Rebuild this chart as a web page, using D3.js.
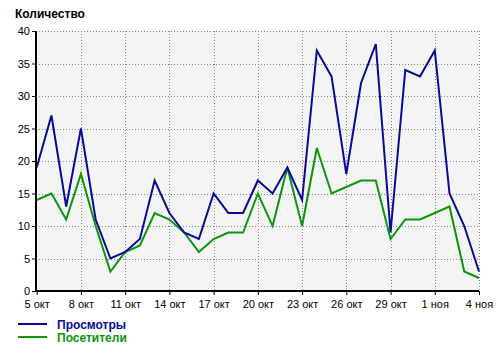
<!DOCTYPE html>
<meta charset="utf-8">
<style>
body { margin: 0; background: #fff; }
text { font-family: "Liberation Sans", Arial, sans-serif; }
.axis text { font-size: 11px; fill: #000; }
.grid line { stroke: #888; stroke-dasharray: 1,2; }
</style>
<svg width="500" height="349"></svg>
<script src="https://d3js.org/d3.v7.min.js"></script>
<script>

// one point per day, 5 окт .. 4 ноя
var days = d3.range(0, 31);
var tickLabels = ["5 окт", "8 окт", "11 окт", "14 окт", "17 окт", "20 окт",
                  "23 окт", "26 окт", "29 окт", "1 ноя", "4 ноя"];
var yTicks = [0, 5, 10, 15, 20, 25, 30, 35, 40];

var views = [19, 27, 13, 25, 11, 5, 6, 8, 17, 12, 9, 8, 15, 12, 12, 17,
             15, 19, 14, 37, 33, 18, 32, 38, 9, 34, 33, 37, 15, 10, 3];
var visitors = [14, 15, 11, 18, 10, 3, 6, 7, 12, 11, 9, 6, 8, 9, 9, 15,
                10, 19, 10, 22, 15, 16, 17, 17, 8, 11, 11, 12, 13, 3, 2];

var series = [
  { name: "Просмотры", values: views, color: "#0a0a96" },
  { name: "Посетители", values: visitors, color: "#0b960b" }
];

var svg = d3.select("svg");
var plotL = 36, plotR = 479, plotT = 31, plotB = 291;

var x = d3.scaleLinear().domain([0, 30]).range([plotL + 0.7, plotR]);
var y = d3.scaleLinear().domain([0, 40]).range([plotB, plotT]);

svg.append("rect")
    .attr("x", plotL).attr("y", plotT)
    .attr("width", plotR - plotL).attr("height", plotB - plotT)
    .attr("fill", "#f4f4f4");

// dotted grid
var grid = svg.append("g").attr("class", "grid");
grid.selectAll("line.h")
  .data(yTicks.slice(1))
  .enter().append("line")
    .attr("x1", plotL).attr("x2", plotR)
    .attr("y1", function(d) { return Math.round(y(d)) + 0.5; })
    .attr("y2", function(d) { return Math.round(y(d)) + 0.5; });
grid.selectAll("line.v")
  .data(d3.range(3, 31, 3))
  .enter().append("line")
    .attr("y1", plotT).attr("y2", plotB)
    .attr("x1", function(d) { return Math.round(x(d)) + 0.5; })
    .attr("x2", function(d) { return Math.round(x(d)) + 0.5; });

var line = d3.line()
    .x(function(d, i) { return x(days[i]); })
    .y(function(d) { return y(d); });

// green first so blue sits on top
series.slice().reverse().forEach(function(s) {
  svg.append("path")
      .datum(s.values)
      .attr("fill", "none")
      .attr("stroke", s.color)
      .attr("stroke-width", 2)
      .attr("d", line);
});

// axes
var xAxis = d3.axisBottom(x)
    .tickValues(d3.range(0, 31, 3))
    .tickFormat(function(d, i) { return tickLabels[i]; })
    .tickSize(4).tickPadding(5);
var yAxis = d3.axisLeft(y)
    .tickValues(yTicks)
    .tickSize(4).tickPadding(2);

var gx = svg.append("g").attr("class", "axis")
    .attr("transform", "translate(0," + plotB + ")")
    .call(xAxis);
var gy = svg.append("g").attr("class", "axis")
    .attr("transform", "translate(" + plotL + ",0)")
    .call(yAxis);
gx.select(".domain").remove();
gy.select(".domain").remove();
gx.selectAll(".tick line").attr("stroke", "#000");
gy.selectAll(".tick line").attr("stroke", "#000");

svg.append("line")
    .attr("x1", plotL).attr("x2", plotL)
    .attr("y1", plotT).attr("y2", plotB + 1)
    .attr("stroke", "#000").attr("stroke-width", 2);
svg.append("line")
    .attr("x1", plotL - 1).attr("x2", plotR)
    .attr("y1", plotB).attr("y2", plotB)
    .attr("stroke", "#000").attr("stroke-width", 2);

svg.append("text")
    .attr("x", 15).attr("y", 18)
    .style("font-size", "12px").style("font-weight", "bold")
    .text("Количество");

// legend
var legend = svg.selectAll("g.legend")
  .data(series)
  .enter().append("g")
    .attr("transform", function(d, i) { return "translate(0," + (324 + i * 13) + ")"; });
legend.append("line")
    .attr("x1", 18).attr("x2", 47)
    .attr("stroke", function(d) { return d.color; })
    .attr("stroke-width", 2);
legend.append("text")
    .attr("x", 57).attr("y", 5)
    .style("font-size", "12px").style("font-weight", "bold")
    .attr("fill", function(d) { return d.color; })
    .text(function(d) { return d.name; });

</script>
